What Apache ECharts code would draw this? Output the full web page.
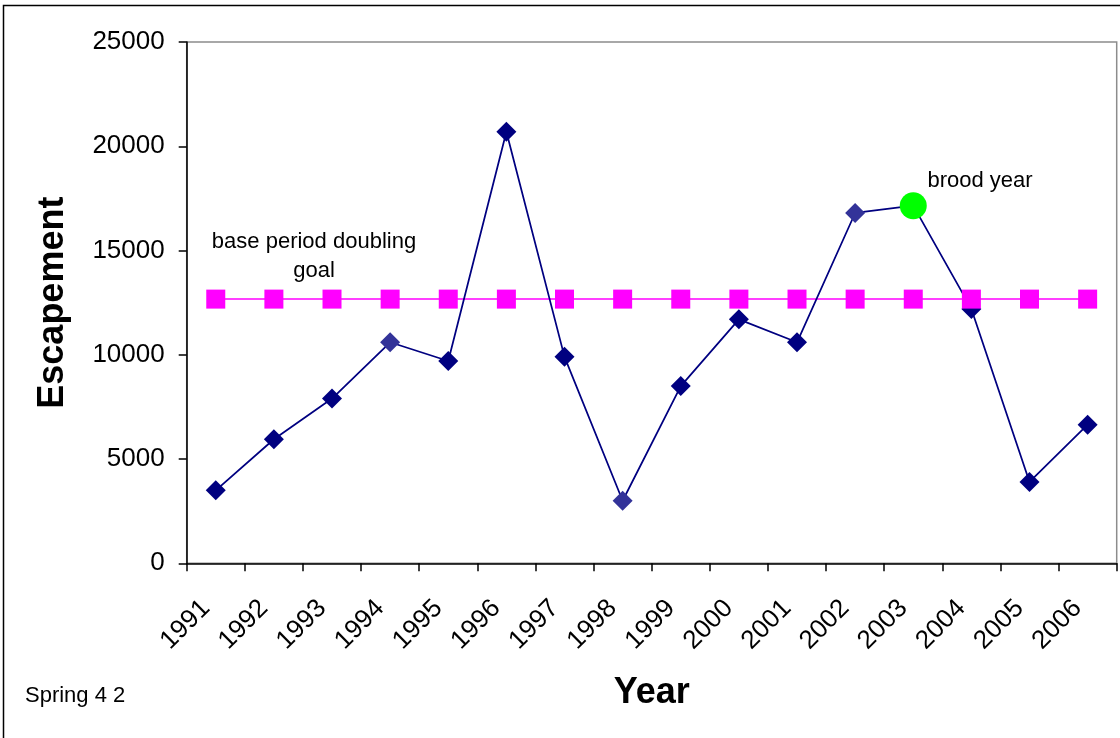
<!DOCTYPE html>
<html>
<head>
<meta charset="utf-8">
<title>Escapement by Year</title>
<script src="https://cdn.jsdelivr.net/npm/echarts@6/dist/echarts.min.js"></script>
<style>
  html, body { margin: 0; padding: 0; background: #ffffff; }
  #chart { width: 1120px; height: 738px; }
</style>
</head>
<body>
<div id="chart"></div>
<script>
// Return years
const years = ['1991', '1992', '1993', '1994', '1995', '1996', '1997', '1998',
               '1999', '2000', '2001', '2002', '2003', '2004', '2005', '2006'];

// Annual escapement counts
const escapement = [3500, 5950, 7900, 10600, 9700, 20700, 9900, 3000,
                    8500, 11700, 10600, 16800, 17150, 12200, 3900, 6650];

// Base period doubling goal (constant across years)
const goalValue = 12670;
const goal = years.map(() => goalValue);

// Brood year highlighted on the escapement line
const broodYear = '2003';

// Y axis range and tick step
const yMin = 0, yMax = 25000, yStep = 5000;

// Years whose markers are drawn in the lighter blue
const lighterMarkerYears = ['1994', '1998', '2002'];

const FONT = "'Liberation Sans', Arial, sans-serif";

const broodData = years.map((y, i) => (y === broodYear ? escapement[i] : null));

const chart = echarts.init(document.getElementById('chart'), null, { renderer: 'canvas' });

chart.setOption({
  animation: false,
  backgroundColor: '#ffffff',
  grid: {
    left: 186.7,
    right: 3.3,
    top: 42,
    bottom: 174.7,
    show: true,
    borderColor: '#8c8c8c',
    borderWidth: 1.5,
    backgroundColor: 'transparent'
  },
  xAxis: {
    type: 'category',
    data: years,
    boundaryGap: true,
    axisLine: { show: true, lineStyle: { color: '#000000', width: 1.5 } },
    axisTick: { show: true, alignWithLabel: false, length: 8, lineStyle: { color: '#000000', width: 1.5 } },
    axisLabel: {
      rotate: 45,
      interval: 0,
      margin: 31,
      padding: [0, 14, 0, 0],
      color: '#000000',
      fontFamily: FONT,
      fontSize: 26
    },
    splitLine: { show: false },
    name: 'Year',
    nameLocation: 'middle',
    nameGap: 112,
    nameTextStyle: { fontFamily: FONT, fontSize: 36, fontWeight: 'bold', color: '#000000' }
  },
  yAxis: {
    type: 'value',
    min: yMin,
    max: yMax,
    interval: yStep,
    axisLine: { show: true, lineStyle: { color: '#000000', width: 1.5 } },
    axisTick: { show: true, inside: false, length: 8, lineStyle: { color: '#000000', width: 1.5 } },
    axisLabel: {
      margin: 22,
      color: '#000000',
      fontFamily: FONT,
      fontSize: 26,
      formatter: (v) => String(v)
    },
    splitLine: { show: false },
    name: 'Escapement',
    nameLocation: 'middle',
    nameGap: 116,
    nameRotate: 90,
    nameTextStyle: { fontFamily: FONT, fontSize: 36, fontWeight: 'bold', color: '#000000' }
  },
  series: [
    {
      // goal line underneath the escapement line
      name: 'goal line',
      type: 'line',
      data: goal,
      showSymbol: false,
      symbol: 'none',
      lineStyle: { color: '#ff00ff', width: 1.5 },
      z: 1,
      silent: true
    },
    {
      name: 'Escapement',
      type: 'line',
      data: escapement,
      symbol: 'diamond',
      symbolSize: 20,
      showAllSymbol: true,
      lineStyle: { color: '#000080', width: 1.75 },
      itemStyle: {
        opacity: 1,
        color: (p) => (lighterMarkerYears.includes(p.name) ? '#333399' : '#000080')
      },
      z: 2
    },
    {
      // goal markers drawn above the escapement line
      name: 'base period doubling goal',
      type: 'scatter',
      data: goal,
      symbol: 'rect',
      symbolSize: 19,
      itemStyle: { color: '#ff00ff', opacity: 1 },
      z: 3
    },
    {
      name: 'brood year',
      type: 'scatter',
      data: broodData,
      symbol: 'circle',
      symbolSize: 27,
      itemStyle: { color: '#00ff00', opacity: 1 },
      z: 4
    }
  ],
  graphic: [
    {
      // outer chart frame
      type: 'rect',
      shape: { x: 3.5, y: 5.5, width: 1200, height: 800 },
      style: { fill: 'none', stroke: '#000000', lineWidth: 1.5 },
      silent: true,
      z: 10
    },
    {
      type: 'text',
      x: 314,
      y: 242,
      style: {
        text: 'base period doubling',
        fontFamily: FONT, fontSize: 22, fill: '#000000',
        textAlign: 'center', textVerticalAlign: 'middle'
      }
    },
    {
      type: 'text',
      x: 314,
      y: 271,
      style: {
        text: 'goal',
        fontFamily: FONT, fontSize: 22, fill: '#000000',
        textAlign: 'center', textVerticalAlign: 'middle'
      }
    },
    {
      type: 'text',
      x: 980,
      y: 181,
      style: {
        text: 'brood year',
        fontFamily: FONT, fontSize: 22, fill: '#000000',
        textAlign: 'center', textVerticalAlign: 'middle'
      }
    },
    {
      type: 'text',
      x: 25,
      y: 696,
      style: {
        text: 'Spring 4 2',
        fontFamily: FONT, fontSize: 22, fill: '#000000',
        textAlign: 'left', textVerticalAlign: 'middle'
      }
    }
  ]
});
</script>
</body>
</html>
